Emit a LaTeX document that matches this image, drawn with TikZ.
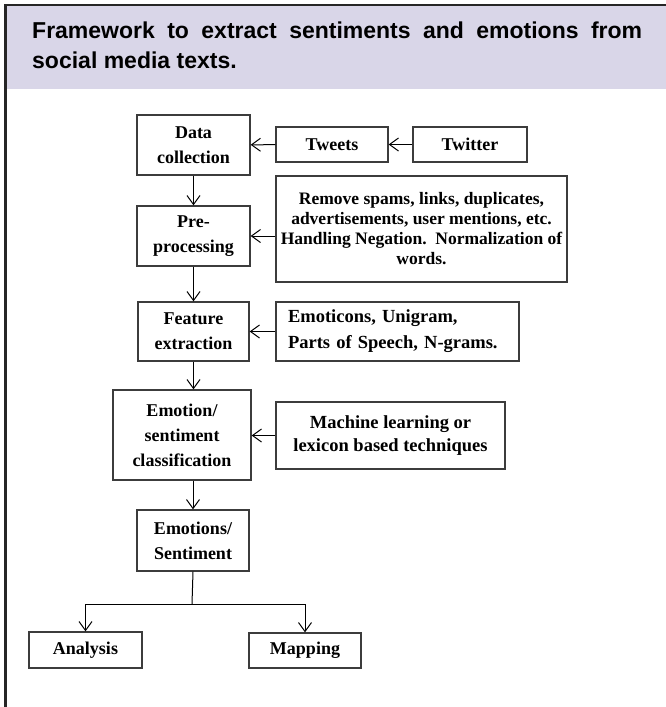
\documentclass[tikz,border=0pt]{standalone}
\usepackage{fontspec}
\setmainfont{Liberation Serif}
\newfontfamily\headfont{Liberation Sans}
\usepackage{tikz}
\usetikzlibrary{arrows.meta,positioning}
\definecolor{headerlilac}{RGB}{217,214,232}
\definecolor{boxgray}{RGB}{60,60,60}

\begin{document}
\frenchspacing
\begin{tikzpicture}[x=1pt,y=-1pt,
    stage/.style={draw=boxgray, line width=1.3pt, align=center, inner sep=2pt,
        font=\bfseries\fontsize{18}{25}\selectfont},
    note/.style={stage},
    flow/.style={-{Straight Barb[length=9pt,width=13pt]}, line width=1pt}]
\useasboundingbox (0,0) rectangle (666,707);
% Frame and title band
\fill[headerlilac] (6.5,6) rectangle (666,89);
\draw[line width=2.5pt, black!85] (5.25,707) -- (5.25,5) -- (666,5);
\node[font=\headfont\bfseries\fontsize{23}{30}\selectfont,
    text width=610pt, align=justify, anchor=north west, inner sep=0pt] (title) at (32,22)
    {Framework to extract sentiments and emotions from\linebreak social media texts.};
% Main stages
\node[stage, minimum width=113pt, minimum height=60pt] (collect) at (193.5,145) {Data\\collection};
\node[stage, minimum width=112pt, minimum height=35pt] (tweets) at (332,144.5) {Tweets};
\node[stage, minimum width=114pt, minimum height=35pt] (twitter) at (470,144.5) {Twitter};
\node[stage, minimum width=113pt, minimum height=60pt] (preproc) at (193.5,236) {Pre-\\processing};
\node[note, minimum width=291pt, minimum height=106pt, font=\bfseries\fontsize{17.5}{20}\selectfont]
    (cleanup) at (421.5,229)
    {Remove spams, links, duplicates,\\advertisements, user mentions, etc.\\Handling Negation.~~Normalization of\\words.};
\node[stage, minimum width=111pt, minimum height=59pt] (feature) at (193.5,331.5) {Feature\\extraction};
\node[note, text width=219pt, inner xsep=12pt, align=left, minimum height=59pt,
    font=\bfseries\fontsize{18.5}{26}\selectfont] (featlist) at (397.5,331.5)
    {Emoticons, Unigram,\\Parts of Speech, N-grams.};
\node[stage, minimum width=138pt, minimum height=90pt] (classify) at (182,435) {Emotion/\\sentiment\\classification};
\node[note, minimum width=229pt, minimum height=67pt, font=\bfseries\fontsize{18.5}{23}\selectfont]
    (method) at (390.5,435.5) {Machine learning or\\lexicon based techniques};
\node[stage, minimum width=112pt, minimum height=61pt] (result) at (193,540.5) {Emotions/\\Sentiment};
\node[stage, minimum width=113pt, minimum height=36pt] (analysis) at (85.5,650) {Analysis};
\node[stage, minimum width=112pt, minimum height=35pt] (mapping) at (305,650.5) {Mapping};
% Connectors
\draw[flow] (twitter) -- (tweets);
\draw[flow] (tweets) -- (collect);
\draw[flow] (collect) -- (preproc);
\draw[flow] (cleanup.west |- preproc.east) -- (preproc.east);
\draw[flow] (preproc) -- (feature);
\draw[flow] (featlist) -- (feature);
\draw[flow] (feature.south) -- (feature.south |- classify.north);
\draw[flow] (method.west) -- (method.west -| classify.east);
\draw[flow] (result.north |- classify.south) -- (result.north);
\coordinate (split) at (192,604);
\draw[line width=1pt] (result.south) -- (split);
\draw[flow] (split) -| (analysis.north);
\draw[flow] (split) -| (mapping.north);
\end{tikzpicture}
\end{document}
